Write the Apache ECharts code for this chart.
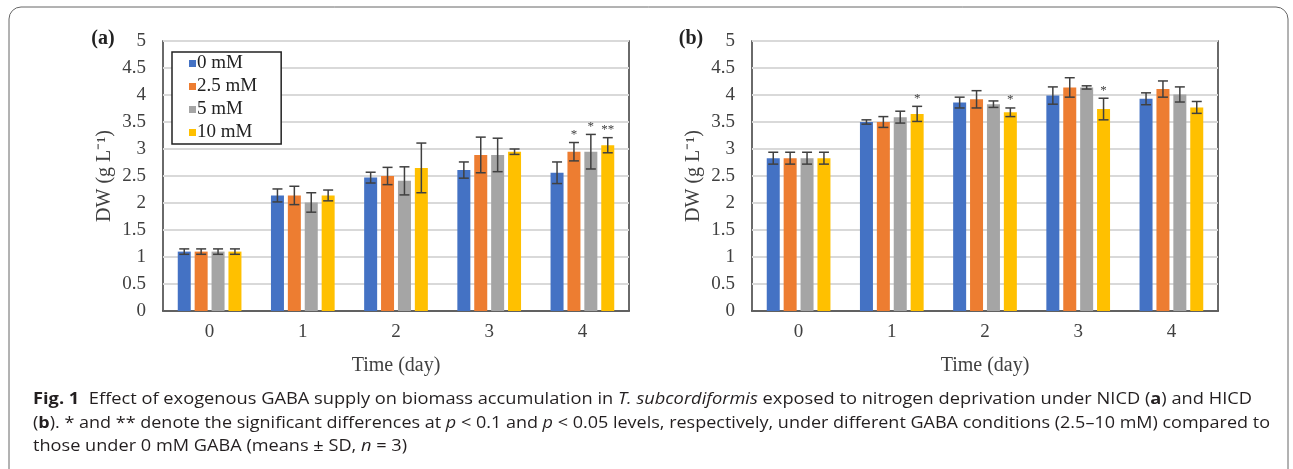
<!DOCTYPE html>
<html>
<head>
<meta charset="utf-8">
<script src="https://cdn.jsdelivr.net/npm/echarts@6/dist/echarts.min.js"></script>
<style>
  html, body { margin: 0; padding: 0; background: #fff; }
  #chart { width: 1293px; height: 469px; }
</style>
</head>
<body>
<div id="chart"></div>
<script>
// 时间（天）
const days = ['0', '1', '2', '3', '4'];
const groups = ['0 mM', '2.5 mM', '5 mM', '10 mM'];
const colors = ['#4472C4', '#ED7D31', '#A5A5A5', '#FFC000'];

// (a) NICD 均值 / 标准差 / 显著性星号
const meanA_0 = [1.10, 2.14, 2.47, 2.61, 2.56];
const meanA_25 = [1.10, 2.14, 2.50, 2.89, 2.95];
const meanA_5 = [1.10, 2.01, 2.41, 2.89, 2.95];
const meanA_10 = [1.10, 2.14, 2.65, 2.95, 3.07];
const sdA_0 = [0.05, 0.12, 0.10, 0.15, 0.20];
const sdA_25 = [0.05, 0.17, 0.16, 0.33, 0.17];
const sdA_5 = [0.05, 0.18, 0.26, 0.31, 0.32];
const sdA_10 = [0.05, 0.10, 0.46, 0.05, 0.14];
const starA_25 = [0, 0, 0, 0, 1];
const starA_5 = [0, 0, 0, 0, 1];
const starA_10 = [0, 0, 0, 0, 2];

// (b) HICD
const meanB_0 = [2.83, 3.50, 3.86, 3.99, 3.93];
const meanB_25 = [2.83, 3.50, 3.92, 4.14, 4.11];
const meanB_5 = [2.83, 3.59, 3.83, 4.14, 4.01];
const meanB_10 = [2.83, 3.65, 3.68, 3.74, 3.77];
const sdB_0 = [0.11, 0.04, 0.10, 0.16, 0.11];
const sdB_25 = [0.11, 0.10, 0.16, 0.18, 0.15];
const sdB_5 = [0.11, 0.11, 0.06, 0.03, 0.14];
const sdB_10 = [0.11, 0.14, 0.08, 0.20, 0.11];
const starB_10 = [0, 1, 1, 1, 0];
const noStars = [0, 0, 0, 0, 0];

const yTicks = { min: 0, max: 5, interval: 0.5 };

const panelA = {
  means: [meanA_0, meanA_25, meanA_5, meanA_10],
  sds: [sdA_0, sdA_25, sdA_5, sdA_10],
  stars: [noStars, starA_25, starA_5, starA_10]
};
const panelB = {
  means: [meanB_0, meanB_25, meanB_5, meanB_10],
  sds: [sdB_0, sdB_25, sdB_5, sdB_10],
  stars: [noStars, noStars, noStars, starB_10]
};

const serif = '"Liberation Serif", "Times New Roman", serif';
const axisColor = '#404040';
const barW = 13;
const step = 16.9;

function buildGrid(idx, left) {
  return { left: left, top: 41, width: 466, height: 270, show: true, borderColor: '#3a3a3a', borderWidth: 1.5, backgroundColor: 'transparent' };
}

function buildX(idx) {
  return {
    type: 'category', gridIndex: idx, data: days,
    axisLine: { lineStyle: { color: '#3a3a3a', width: 1.5 } },
    axisTick: { show: false },
    axisLabel: { fontFamily: serif, fontSize: 19, color: axisColor, margin: 12 },
    name: 'Time (day)', nameLocation: 'middle', nameGap: 45,
    nameTextStyle: { fontFamily: serif, fontSize: 20, color: axisColor }
  };
}

function buildY(idx) {
  return {
    type: 'value', gridIndex: idx, min: yTicks.min, max: yTicks.max, interval: yTicks.interval,
    axisLine: { show: false }, axisTick: { show: false },
    axisLabel: { fontFamily: serif, fontSize: 19, color: axisColor, margin: 17 },
    splitLine: { lineStyle: { color: '#D9D9D9', width: 2 } },
    name: 'DW (g L⁻¹)', nameLocation: 'middle', nameGap: 48, nameRotate: 90,
    nameTextStyle: { fontFamily: serif, fontSize: 20, color: axisColor }
  };
}

// 误差线和星号
function errorSeries(idx, panel) {
  const data = [];
  panel.means.forEach((m, s) => {
    m.forEach((v, c) => data.push([c, s, v, panel.sds[s][c], panel.stars[s][c]]));
  });
  return {
    type: 'custom', xAxisIndex: idx, yAxisIndex: idx, z: 10, silent: true,
    data: data,
    encode: { x: 0, y: 2 },
    renderItem: function (params, api) {
      const c = api.value(0), s = api.value(1), m = api.value(2), sd = api.value(3), st = api.value(4);
      const x = api.coord([c, m])[0] + (s - 1.5) * step;
      const yTop = api.coord([c, m + sd])[1];
      const yBot = api.coord([c, m - sd])[1];
      const ls = { stroke: '#404040', lineWidth: 1.5 };
      const children = [
        { type: 'line', shape: { x1: x, y1: yTop, x2: x, y2: yBot }, style: ls },
        { type: 'line', shape: { x1: x - 5, y1: yTop, x2: x + 5, y2: yTop }, style: ls },
        { type: 'line', shape: { x1: x - 5, y1: yBot, x2: x + 5, y2: yBot }, style: ls }
      ];
      if (st > 0) {
        children.push({
          type: 'text',
          style: { x: x, y: yTop - 8, text: '*'.repeat(st), font: '13px ' + serif, fill: '#404040', align: 'center', verticalAlign: 'middle' }
        });
      }
      return { type: 'group', children: children };
    }
  };
}

function barSeries(idx, panel) {
  return panel.means.map((m, s) => ({
    type: 'bar', name: groups[s], xAxisIndex: idx, yAxisIndex: idx,
    data: m, barWidth: barW, barGap: '30%',
    itemStyle: { color: colors[s] }
  }));
}

// 图注文字
const capFont = '"Open Sans", "Noto Sans", sans-serif';
const capSize = 15.5;
const capLines = [
  { y: 400, width: 1219, segs: [['Fig. 1', 'b'], ['  Effect of exogenous GABA supply on biomass accumulation in ', 'n'], ['T. subcordiformis', 'i'], [' exposed to nitrogen deprivation under NICD (', 'n'], ['a', 'b'], [') and HICD', 'n']] },
  { y: 424, width: 1237, segs: [['(', 'n'], ['b', 'b'], ['). * and ** denote the significant differences at ', 'n'], ['p', 'i'], [' < 0.1 and ', 'n'], ['p', 'i'], [' < 0.05 levels, respectively, under different GABA conditions (2.5–10 mM) compared to', 'n']] },
  { y: 447, width: 374, segs: [['those under 0 mM GABA (means ± SD, ', 'n'], ['n', 'i'], [' = 3)', 'n']] }
];

const measureCtx = document.createElement('canvas').getContext('2d');
function segFont(k) {
  const w = k === 'b' ? 'bold ' : '';
  const st = k === 'i' ? 'italic ' : '';
  return st + w + capSize + 'px ' + capFont;
}
function captionElements() {
  return capLines.map(line => {
    let w = 0;
    let txt = '';
    line.segs.forEach(([t, k]) => {
      measureCtx.font = segFont(k);
      w += measureCtx.measureText(t).width;
      txt += '{' + k + '|' + t + '}';
    });
    return {
      type: 'text', x: 33, y: line.y, scaleX: line.width / w, originX: 0, originY: 0, silent: true,
      style: {
        text: txt, x: 0, y: 0, verticalAlign: 'middle', fill: '#231f20',
        rich: {
          n: { fontFamily: capFont, fontSize: capSize, color: '#231f20' },
          b: { fontFamily: capFont, fontSize: capSize, fontWeight: 'bold', color: '#231f20' },
          i: { fontFamily: capFont, fontSize: capSize, fontStyle: 'italic', color: '#231f20' }
        }
      }
    };
  });
}

const chart = echarts.init(document.getElementById('chart'), null, { renderer: 'canvas' });
chart.setOption({
  animation: false,
  backgroundColor: '#fff',
  grid: [buildGrid(0, 163), buildGrid(1, 752)],
  xAxis: [buildX(0), buildX(1)],
  yAxis: [buildY(0), buildY(1)],
  legend: {
    orient: 'vertical', left: 172, top: 52,
    data: groups,
    icon: 'rect', itemWidth: 7, itemHeight: 7, itemGap: 4,
    padding: [2, 24, 2, 17],
    backgroundColor: '#fff', borderColor: '#222', borderWidth: 1.5, borderRadius: 0,
    textStyle: { fontFamily: serif, fontSize: 19, color: '#222', lineHeight: 18, padding: [0, 0, 0, -4] }
  },
  graphic: [
    { type: 'rect', shape: { x: 9, y: 7, width: 1279, height: 490, r: 12 }, style: { fill: 'none', stroke: '#666', lineWidth: 1 }, silent: true },
    { type: 'text', x: 103, y: 39, style: { text: '(a)', font: 'bold 20px ' + serif, fill: '#222', align: 'center', verticalAlign: 'middle' } },
    { type: 'text', x: 691, y: 39, style: { text: '(b)', font: 'bold 20px ' + serif, fill: '#222', align: 'center', verticalAlign: 'middle' } }
  ].concat(captionElements()),
  series: barSeries(0, panelA).concat(barSeries(1, panelB), [errorSeries(0, panelA), errorSeries(1, panelB)])
});
</script>
</body>
</html>
